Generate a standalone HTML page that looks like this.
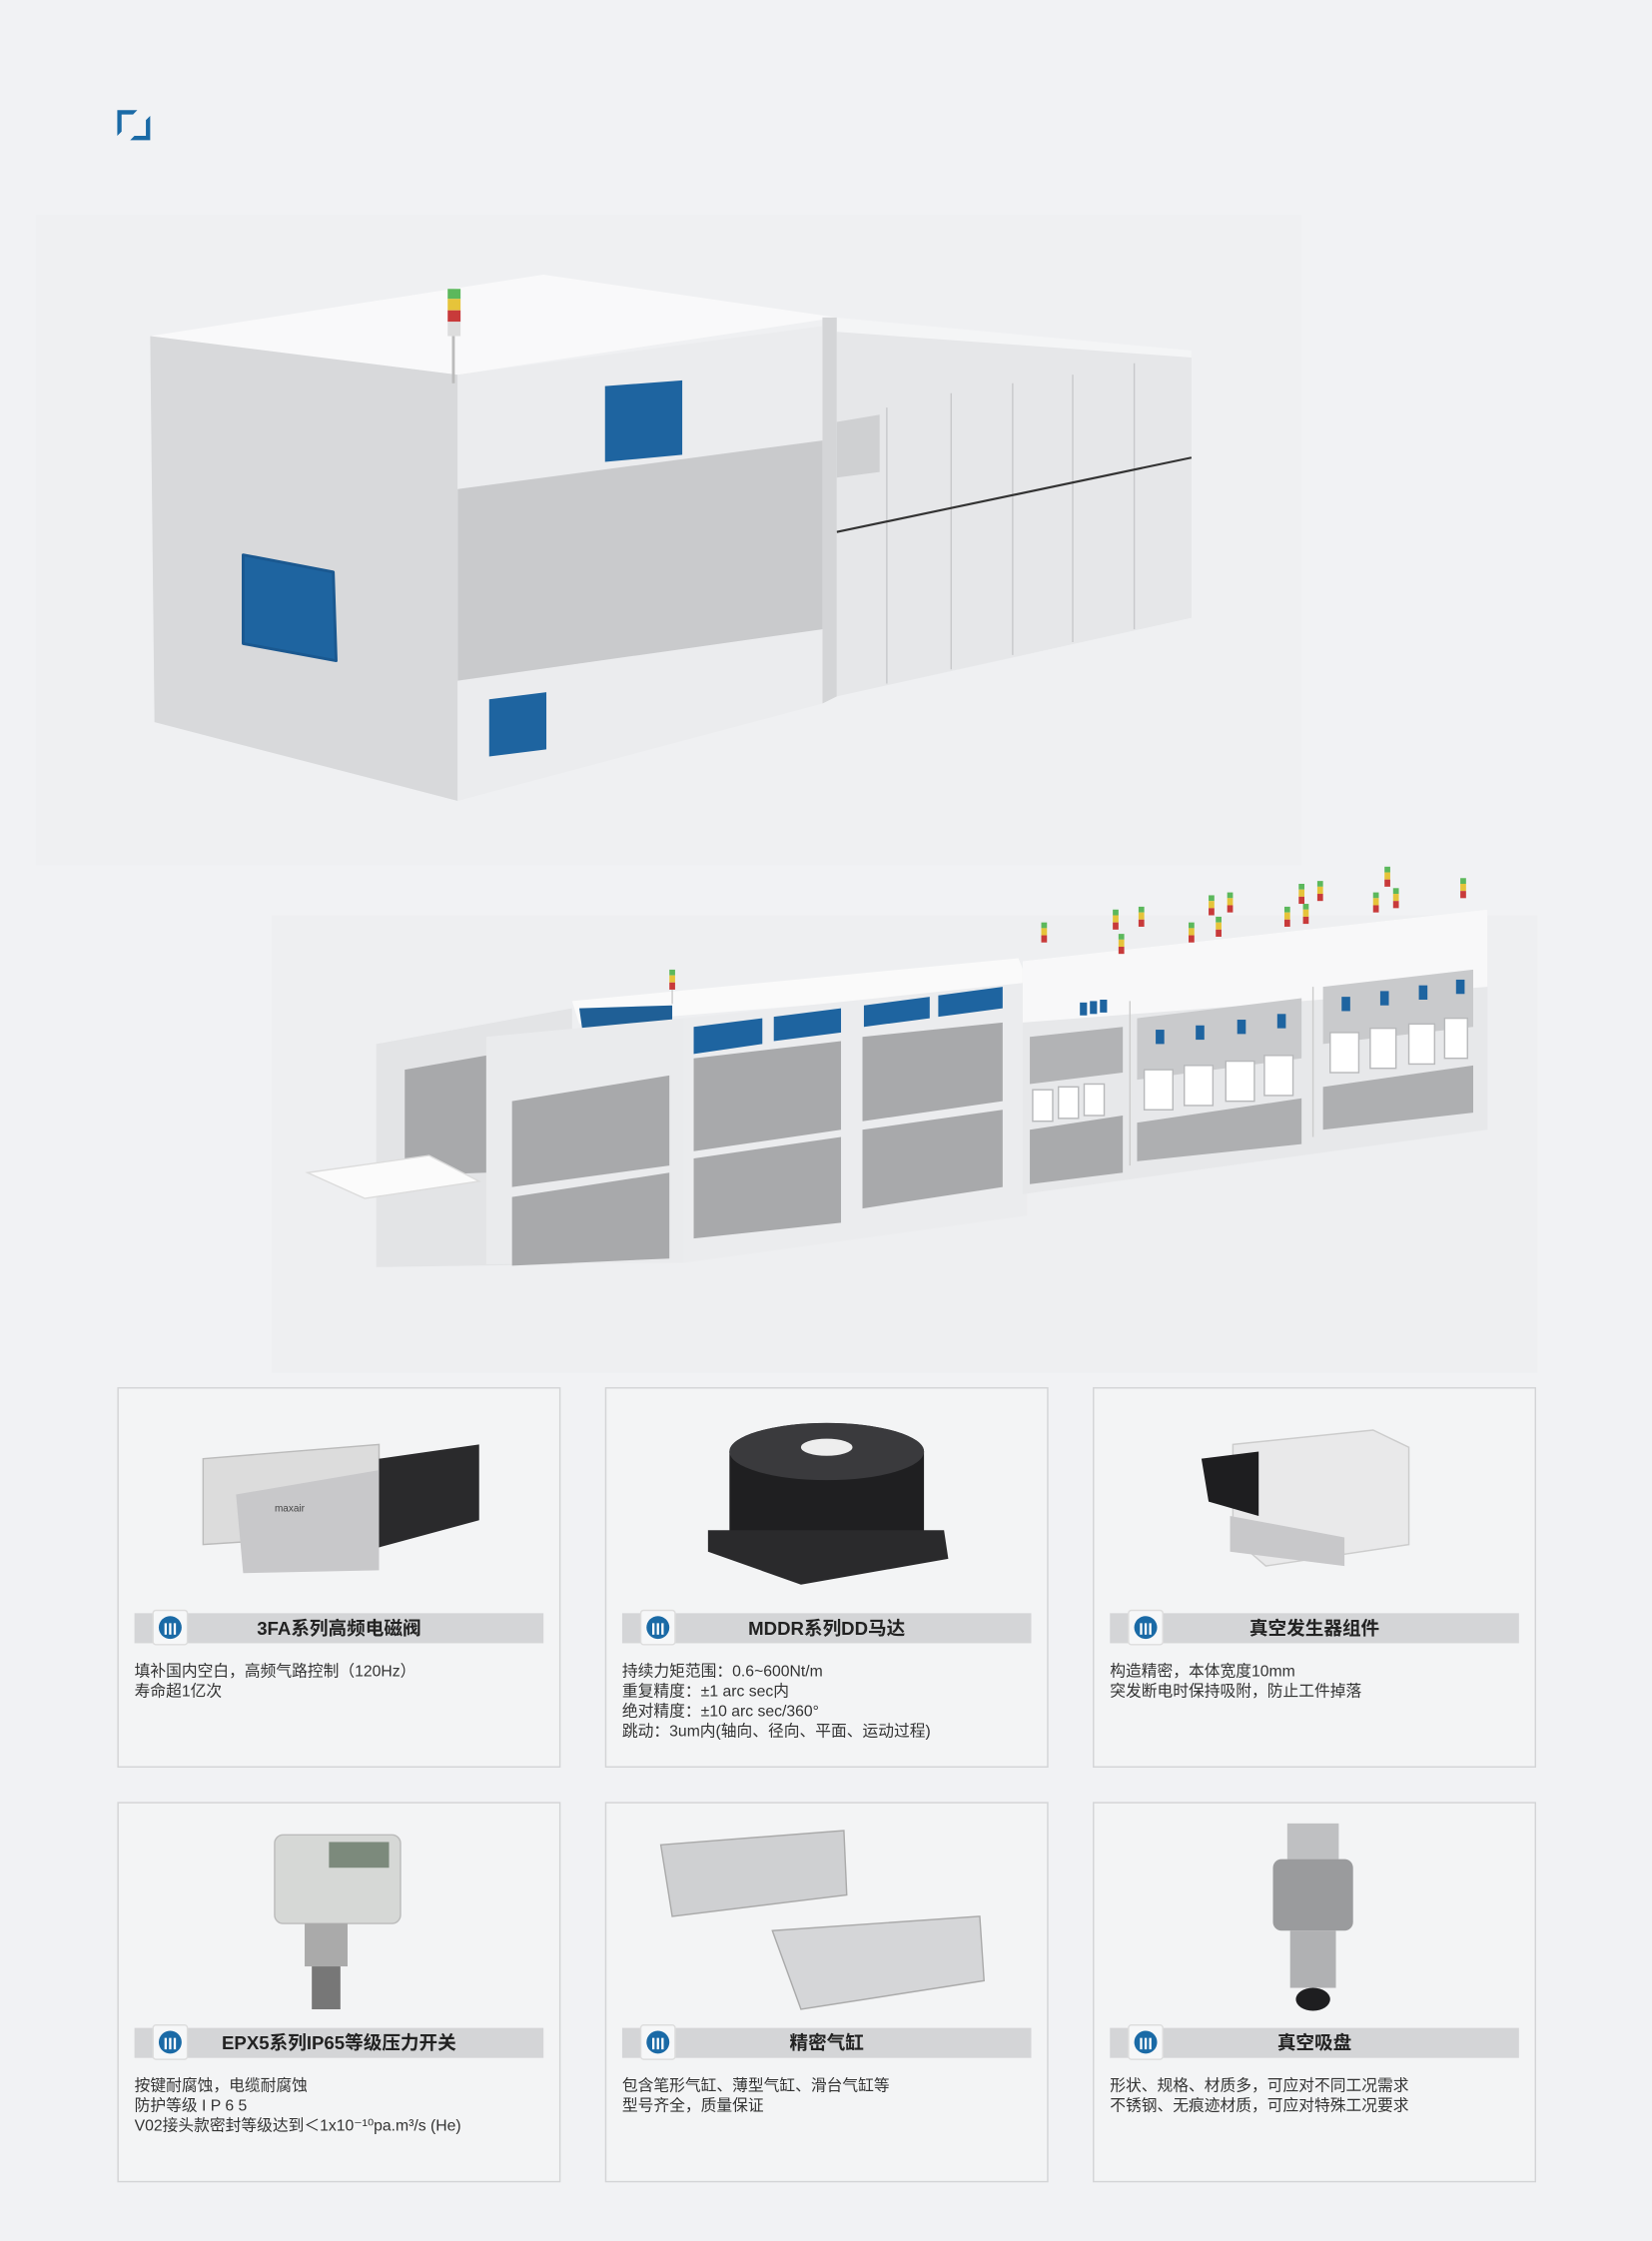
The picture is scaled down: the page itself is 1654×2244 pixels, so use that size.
<!DOCTYPE html>
<html><head><meta charset="utf-8"><style>
html,body{margin:0;padding:0;background:#f1f2f4;}
svg{display:block;}
text{font-family:"Liberation Sans","Noto Sans CJK SC",sans-serif;}
</style></head><body>
<svg width="1654" height="2244" viewBox="0 0 1155 1567" xmlns="http://www.w3.org/2000/svg">
<rect width="1155" height="1567" fill="#f1f2f4"/>
<!-- corner icon -->
<path d="M82 77 H96 L93 80 H85 V92 L82 95 Z" fill="#1a6aa6"/>
<path d="M105 98 H91 L94 95 H102 V84 L105 81 Z" fill="#1a6aa6"/>
<rect x="25" y="150" width="885" height="455" fill="#eff0f2"/>

<!-- Machine 1 -->
<polygon points="585,222 833,245 833,432 585,487" fill="#e6e7e9"/>
<polygon points="585,222 833,245 833,250 585,232" fill="#f4f5f6"/>
<g stroke="#c8c9cb" stroke-width="1">
<line x1="620" y1="285" x2="620" y2="478"/><line x1="665" y1="275" x2="665" y2="468"/><line x1="708" y1="268" x2="708" y2="458"/><line x1="750" y1="262" x2="750" y2="449"/><line x1="793" y1="254" x2="793" y2="440"/>
</g>
<polygon points="585,295 615,290 615,330 585,334" fill="#cfd0d2"/>
<line x1="585" y1="372" x2="833" y2="320" stroke="#333" stroke-width="1.5"/>
<polygon points="105,235 380,192 585,222 320,262" fill="#f9f9fa"/>
<polygon points="575,222 585,222 585,487 575,492" fill="#d4d5d7"/>
<polygon points="105,235 320,262 320,560 108,505" fill="#d8d9db"/>
<polygon points="320,262 575,228 575,492 320,560" fill="#ebecee"/>
<polygon points="320,342 575,308 575,440 320,476" fill="#c9cacc"/>
<polygon points="423,270 477,266 477,318 423,323" fill="#1e64a0"/>
<polygon points="170,388 233,400 235,462 170,450" fill="#1e64a0" stroke="#1a5890" stroke-width="2" stroke-linejoin="round"/>
<polygon points="342,489 382,484 382,524 342,529" fill="#1e64a0"/>
<line x1="317" y1="235" x2="317" y2="268" stroke="#bbb" stroke-width="2"/>
<rect x="313" y="202" width="9" height="7" fill="#5cb85c"/><rect x="313" y="209" width="9" height="8" fill="#e6c43a"/><rect x="313" y="217" width="9" height="8" fill="#c83a3a"/><rect x="313" y="225" width="9" height="10" fill="#ddd"/>

<!-- Machine 2 -->
<rect x="190" y="640" width="885" height="320" fill="#eeeff1"/>
<polygon points="263,730 400,705 400,884 263,886" fill="#e3e4e6"/>
<polygon points="283,748 340,738 340,820 283,822" fill="#a8a9ab"/>
<polygon points="400,700 712,670 720,690 405,716" fill="#fafafa"/>
<polygon points="405,705 470,703 470,735 410,740" fill="#1f5f96"/>
<polygon points="340,725 478,712 478,883 340,884" fill="#eaebed"/>
<polygon points="478,712 718,687 718,850 478,883" fill="#ebecee"/>
<polygon points="358,770 468,752 468,815 358,830" fill="#a8a9ab"/>
<polygon points="358,837 468,820 468,880 358,885" fill="#a8a9ab"/>
<polygon points="485,740 588,728 588,790 485,805" fill="#a8a9ab"/>
<polygon points="485,810 588,795 588,855 485,866" fill="#a8a9ab"/>
<polygon points="603,725 701,715 701,770 603,784" fill="#a8a9ab"/>
<polygon points="603,790 701,776 701,830 603,845" fill="#a8a9ab"/>
<polygon points="485,718 533,712 533,730 485,737" fill="#1e64a0"/>
<polygon points="541,711 588,705 588,722 541,728" fill="#1e64a0"/>
<polygon points="604,703 650,697 650,712 604,718" fill="#1e64a0"/>
<polygon points="656,696 701,690 701,705 656,711" fill="#1e64a0"/>
<polygon points="215,820 300,808 335,826 255,838" fill="#fbfbfb" stroke="#dcdcdc" stroke-width="1"/>
<!-- right modules -->
<polygon points="715,672 1040,636 1040,790 715,835" fill="#e7e8ea"/>
<polygon points="715,672 1040,636 1040,690 715,715" fill="#f8f8f9"/>
<polygon points="720,725 785,718 785,750 720,758" fill="#b2b3b5"/>
<polygon points="720,790 785,780 785,820 720,828" fill="#a9aaac"/>
<polygon points="795,712 910,698 910,740 795,755" fill="#c9cacc"/>
<polygon points="795,785 910,768 910,800 795,812" fill="#aeafb1"/>
<polygon points="925,690 1030,678 1030,718 925,730" fill="#c9cacc"/>
<polygon points="925,760 1030,745 1030,778 925,790" fill="#aeafb1"/>
<g fill="#fff" stroke="#b8b9bb">
<rect x="722" y="762" width="14" height="22"/><rect x="740" y="760" width="14" height="22"/><rect x="758" y="758" width="14" height="22"/>
<rect x="800" y="748" width="20" height="28"/><rect x="828" y="745" width="20" height="28"/><rect x="857" y="742" width="20" height="28"/><rect x="884" y="738" width="20" height="28"/>
<rect x="930" y="722" width="20" height="28"/><rect x="958" y="719" width="18" height="28"/><rect x="985" y="716" width="18" height="28"/><rect x="1010" y="712" width="16" height="28"/>
</g>
<g fill="#1e64a0">
<rect x="755" y="701" width="5" height="9"/><rect x="762" y="700" width="5" height="9"/><rect x="769" y="699" width="5" height="9"/>
<rect x="808" y="720" width="6" height="10"/><rect x="836" y="717" width="6" height="10"/><rect x="865" y="713" width="6" height="10"/><rect x="893" y="709" width="6" height="10"/>
<rect x="938" y="697" width="6" height="10"/><rect x="965" y="693" width="6" height="10"/><rect x="992" y="689" width="6" height="10"/><rect x="1018" y="685" width="6" height="10"/>
</g>
<line x1="790" y1="700" x2="790" y2="815" stroke="#ccc"/><line x1="918" y1="690" x2="918" y2="795" stroke="#ccc"/>
<g id="lt">
</g>
<g>
<!-- light towers -->
<g transform="translate(470,678)"><rect x="-2" y="0" width="4" height="4" fill="#5cb85c"/><rect x="-2" y="4" width="4" height="5" fill="#e6c43a"/><rect x="-2" y="9" width="4" height="5" fill="#c83a3a"/><line x1="0" y1="14" x2="0" y2="24" stroke="#ccc"/></g>
<g fill="none">
<g transform="translate(730,645)"><rect x="-2" y="0" width="4" height="4" fill="#5cb85c"/><rect x="-2" y="4" width="4" height="5" fill="#e6c43a"/><rect x="-2" y="9" width="4" height="5" fill="#c83a3a"/></g>
<g transform="translate(780,636)"><rect x="-2" y="0" width="4" height="4" fill="#5cb85c"/><rect x="-2" y="4" width="4" height="5" fill="#e6c43a"/><rect x="-2" y="9" width="4" height="5" fill="#c83a3a"/></g>
<g transform="translate(798,634)"><rect x="-2" y="0" width="4" height="4" fill="#5cb85c"/><rect x="-2" y="4" width="4" height="5" fill="#e6c43a"/><rect x="-2" y="9" width="4" height="5" fill="#c83a3a"/></g>
<g transform="translate(784,653)"><rect x="-2" y="0" width="4" height="4" fill="#5cb85c"/><rect x="-2" y="4" width="4" height="5" fill="#e6c43a"/><rect x="-2" y="9" width="4" height="5" fill="#c83a3a"/></g>
<g transform="translate(833,645)"><rect x="-2" y="0" width="4" height="4" fill="#5cb85c"/><rect x="-2" y="4" width="4" height="5" fill="#e6c43a"/><rect x="-2" y="9" width="4" height="5" fill="#c83a3a"/></g>
<g transform="translate(847,626)"><rect x="-2" y="0" width="4" height="4" fill="#5cb85c"/><rect x="-2" y="4" width="4" height="5" fill="#e6c43a"/><rect x="-2" y="9" width="4" height="5" fill="#c83a3a"/></g>
<g transform="translate(860,624)"><rect x="-2" y="0" width="4" height="4" fill="#5cb85c"/><rect x="-2" y="4" width="4" height="5" fill="#e6c43a"/><rect x="-2" y="9" width="4" height="5" fill="#c83a3a"/></g>
<g transform="translate(852,641)"><rect x="-2" y="0" width="4" height="4" fill="#5cb85c"/><rect x="-2" y="4" width="4" height="5" fill="#e6c43a"/><rect x="-2" y="9" width="4" height="5" fill="#c83a3a"/></g>
<g transform="translate(900,634)"><rect x="-2" y="0" width="4" height="4" fill="#5cb85c"/><rect x="-2" y="4" width="4" height="5" fill="#e6c43a"/><rect x="-2" y="9" width="4" height="5" fill="#c83a3a"/></g>
<g transform="translate(910,618)"><rect x="-2" y="0" width="4" height="4" fill="#5cb85c"/><rect x="-2" y="4" width="4" height="5" fill="#e6c43a"/><rect x="-2" y="9" width="4" height="5" fill="#c83a3a"/></g>
<g transform="translate(923,616)"><rect x="-2" y="0" width="4" height="4" fill="#5cb85c"/><rect x="-2" y="4" width="4" height="5" fill="#e6c43a"/><rect x="-2" y="9" width="4" height="5" fill="#c83a3a"/></g>
<g transform="translate(913,632)"><rect x="-2" y="0" width="4" height="4" fill="#5cb85c"/><rect x="-2" y="4" width="4" height="5" fill="#e6c43a"/><rect x="-2" y="9" width="4" height="5" fill="#c83a3a"/></g>
<g transform="translate(962,624)"><rect x="-2" y="0" width="4" height="4" fill="#5cb85c"/><rect x="-2" y="4" width="4" height="5" fill="#e6c43a"/><rect x="-2" y="9" width="4" height="5" fill="#c83a3a"/></g>
<g transform="translate(970,606)"><rect x="-2" y="0" width="4" height="4" fill="#5cb85c"/><rect x="-2" y="4" width="4" height="5" fill="#e6c43a"/><rect x="-2" y="9" width="4" height="5" fill="#c83a3a"/></g>
<g transform="translate(976,621)"><rect x="-2" y="0" width="4" height="4" fill="#5cb85c"/><rect x="-2" y="4" width="4" height="5" fill="#e6c43a"/><rect x="-2" y="9" width="4" height="5" fill="#c83a3a"/></g>
<g transform="translate(1023,614)"><rect x="-2" y="0" width="4" height="4" fill="#5cb85c"/><rect x="-2" y="4" width="4" height="5" fill="#e6c43a"/><rect x="-2" y="9" width="4" height="5" fill="#c83a3a"/></g>
</g></g>

<!-- Cards -->
<g fill="#f3f4f5" stroke="#d3d4d6" stroke-width="1">
<rect x="82.5" y="970.5" width="309" height="265"/><rect x="423.5" y="970.5" width="309" height="265"/><rect x="764.5" y="970.5" width="309" height="265"/>
<rect x="82.5" y="1260.5" width="309" height="265"/><rect x="423.5" y="1260.5" width="309" height="265"/><rect x="764.5" y="1260.5" width="309" height="265"/>
</g>
<g fill="#d4d5d7">
<rect x="94" y="1128" width="286" height="21"/><rect x="435" y="1128" width="286" height="21"/><rect x="776" y="1128" width="286" height="21"/>
<rect x="94" y="1418" width="286" height="21"/><rect x="435" y="1418" width="286" height="21"/><rect x="776" y="1418" width="286" height="21"/>
</g>
<g>
<g transform="translate(107,1126)"><rect width="24" height="24" rx="2" fill="#f6f7f8" stroke="#ddd"/><circle cx="12" cy="12" r="8" fill="#1a6aa6"/><rect x="8" y="9" width="1.6" height="8" fill="#fff"/><rect x="11.2" y="9" width="1.6" height="8" fill="#fff"/><rect x="14.4" y="9" width="1.6" height="8" fill="#fff"/></g>
<g transform="translate(448,1126)"><rect width="24" height="24" rx="2" fill="#f6f7f8" stroke="#ddd"/><circle cx="12" cy="12" r="8" fill="#1a6aa6"/><rect x="8" y="9" width="1.6" height="8" fill="#fff"/><rect x="11.2" y="9" width="1.6" height="8" fill="#fff"/><rect x="14.4" y="9" width="1.6" height="8" fill="#fff"/></g>
<g transform="translate(789,1126)"><rect width="24" height="24" rx="2" fill="#f6f7f8" stroke="#ddd"/><circle cx="12" cy="12" r="8" fill="#1a6aa6"/><rect x="8" y="9" width="1.6" height="8" fill="#fff"/><rect x="11.2" y="9" width="1.6" height="8" fill="#fff"/><rect x="14.4" y="9" width="1.6" height="8" fill="#fff"/></g>
<g transform="translate(107,1416)"><rect width="24" height="24" rx="2" fill="#f6f7f8" stroke="#ddd"/><circle cx="12" cy="12" r="8" fill="#1a6aa6"/><rect x="8" y="9" width="1.6" height="8" fill="#fff"/><rect x="11.2" y="9" width="1.6" height="8" fill="#fff"/><rect x="14.4" y="9" width="1.6" height="8" fill="#fff"/></g>
<g transform="translate(448,1416)"><rect width="24" height="24" rx="2" fill="#f6f7f8" stroke="#ddd"/><circle cx="12" cy="12" r="8" fill="#1a6aa6"/><rect x="8" y="9" width="1.6" height="8" fill="#fff"/><rect x="11.2" y="9" width="1.6" height="8" fill="#fff"/><rect x="14.4" y="9" width="1.6" height="8" fill="#fff"/></g>
<g transform="translate(789,1416)"><rect width="24" height="24" rx="2" fill="#f6f7f8" stroke="#ddd"/><circle cx="12" cy="12" r="8" fill="#1a6aa6"/><rect x="8" y="9" width="1.6" height="8" fill="#fff"/><rect x="11.2" y="9" width="1.6" height="8" fill="#fff"/><rect x="14.4" y="9" width="1.6" height="8" fill="#fff"/></g>
</g>
<g font-size="13" font-weight="bold" fill="#222" text-anchor="middle">
<text x="237" y="1143">3FA系列高频电磁阀</text>
<text x="578" y="1143">MDDR系列DD马达</text>
<text x="919" y="1143">真空发生器组件</text>
<text x="237" y="1433">EPX5系列IP65等级压力开关</text>
<text x="578" y="1433">精密气缸</text>
<text x="919" y="1433">真空吸盘</text>
</g>
<g font-size="11" fill="#333">
<text x="94" y="1172">填补国内空白，高频气路控制（120Hz）</text>
<text x="94" y="1186">寿命超1亿次</text>
<text x="435" y="1172">持续力矩范围：0.6~600Nt/m</text>
<text x="435" y="1186">重复精度：±1 arc sec内</text>
<text x="435" y="1200">绝对精度：±10 arc sec/360°</text>
<text x="435" y="1214">跳动：3um内(轴向、径向、平面、运动过程)</text>
<text x="776" y="1172">构造精密，本体宽度10mm</text>
<text x="776" y="1186">突发断电时保持吸附，防止工件掉落</text>
<text x="94" y="1462">按键耐腐蚀，电缆耐腐蚀</text>
<text x="94" y="1476">防护等级 I P 6 5</text>
<text x="94" y="1490">V02接头款密封等级达到＜1x10⁻¹⁰pa.m³/s (He)</text>
<text x="435" y="1462">包含笔形气缸、薄型气缸、滑台气缸等</text>
<text x="435" y="1476">型号齐全，质量保证</text>
<text x="776" y="1462">形状、规格、材质多，可应对不同工况需求</text>
<text x="776" y="1476">不锈钢、无痕迹材质，可应对特殊工况要求</text>
</g>

<!-- product images -->
<!-- 3FA valve -->
<polygon points="142,1020 265,1010 265,1072 142,1080" fill="#dcdcdc" stroke="#bbb"/>
<polygon points="165,1045 265,1028 265,1098 170,1100" fill="#c8c8ca"/>
<polygon points="265,1020 335,1010 335,1063 265,1082" fill="#2a2a2c"/>
<text x="192" y="1057" font-size="7" fill="#444">maxair</text>
<!-- DD motor -->
<ellipse cx="578" cy="1015" rx="68" ry="20" fill="#2e2e30"/>
<rect x="510" y="1015" width="136" height="70" fill="#1f1f21"/>
<ellipse cx="578" cy="1015" rx="68" ry="20" fill="#3a3a3d"/>
<ellipse cx="578" cy="1012" rx="18" ry="6" fill="#eee"/>
<polygon points="495,1070 660,1070 663,1090 560,1108 495,1085" fill="#2a2a2c"/>
<!-- vacuum generator -->
<polygon points="862,1010 960,1000 985,1012 985,1080 885,1095 862,1075" fill="#e9e9ea" stroke="#ccc"/>
<polygon points="840,1020 880,1015 880,1060 845,1050" fill="#1e1e20"/>
<polygon points="860,1060 940,1075 940,1095 860,1085" fill="#c8c8ca"/>
<!-- pressure switch -->
<rect x="192" y="1283" width="88" height="62" rx="6" fill="#d6d8d6" stroke="#bbb"/>
<rect x="230" y="1288" width="42" height="18" fill="#7c8a7c"/>
<rect x="213" y="1345" width="30" height="30" fill="#aaa"/>
<rect x="218" y="1375" width="20" height="30" fill="#777"/>
<!-- cylinders -->
<polygon points="462,1290 590,1280 592,1325 470,1340" fill="#cfd0d2" stroke="#aaa"/>
<polygon points="540,1350 685,1340 688,1385 560,1405" fill="#d5d6d8" stroke="#aaa"/>
<!-- suction cup -->
<rect x="900" y="1275" width="36" height="25" fill="#bfc0c2"/>
<rect x="890" y="1300" width="56" height="50" rx="6" fill="#9a9b9d"/>
<rect x="902" y="1350" width="32" height="40" fill="#b0b1b3"/>
<ellipse cx="918" cy="1398" rx="12" ry="8" fill="#1e1e20"/>
</svg>
</body></html>
